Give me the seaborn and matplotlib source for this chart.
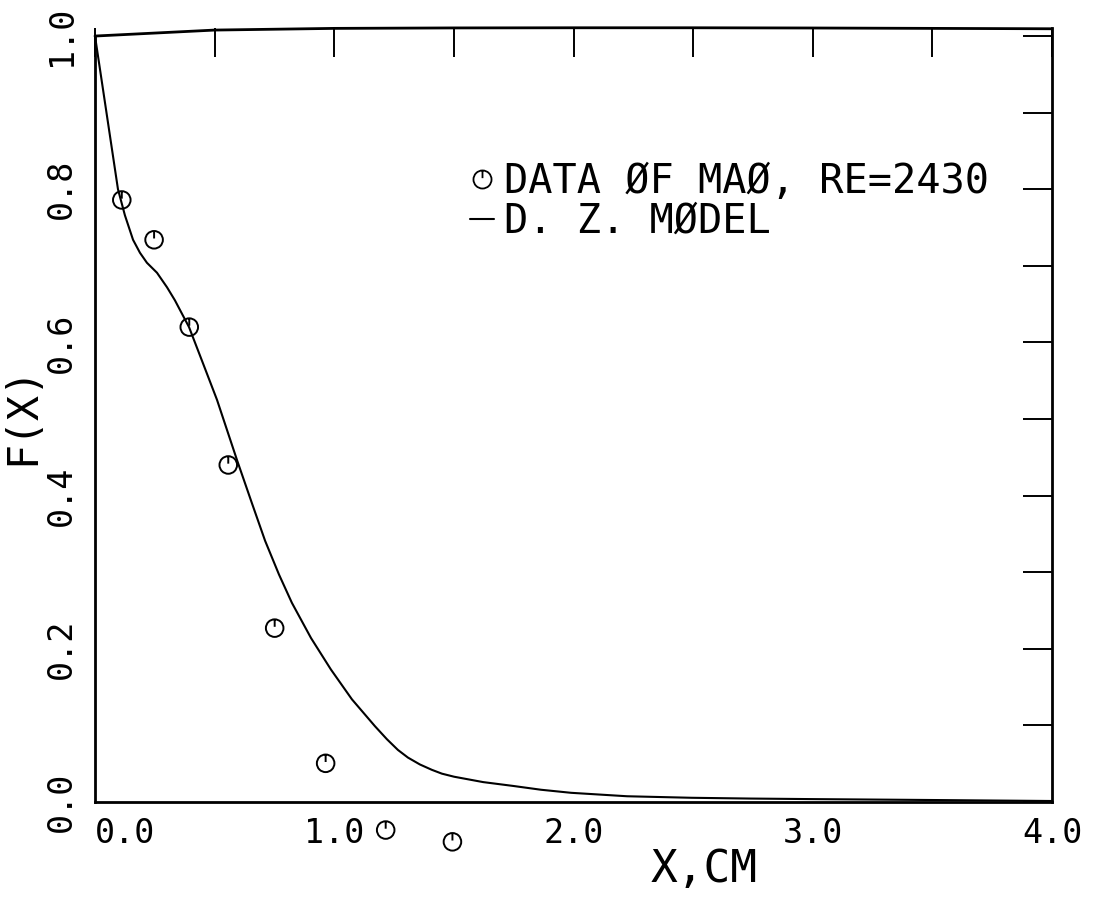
import numpy as np
import matplotlib
matplotlib.use("Agg")
import matplotlib.pyplot as plt
from matplotlib.path import Path
from matplotlib.lines import Line2D
import seaborn as sns

# ---- data ----
model_x = [0.0, 0.048, 0.096, 0.125, 0.159, 0.188, 0.217, 0.259, 0.301,
           0.334, 0.393, 0.451, 0.510, 0.594, 0.656, 0.711, 0.769, 0.823, 0.903, 0.986,
           1.074, 1.170, 1.220, 1.266, 1.308, 1.358, 1.408, 1.450, 1.501, 1.622, 1.747,
           1.864, 1.990, 2.224, 2.495, 2.738, 2.989, 3.498, 4.0]
model_f = [1.0, 0.900, 0.800, 0.766, 0.734, 0.717, 0.704, 0.691, 0.672,
           0.655, 0.620, 0.573, 0.525, 0.446, 0.390, 0.341, 0.297, 0.260, 0.214, 0.173,
           0.134, 0.099, 0.082, 0.068, 0.058, 0.049, 0.042, 0.037, 0.033, 0.026, 0.021,
           0.016, 0.012, 0.0075, 0.0055, 0.0045, 0.0038, 0.0026, 0.0013]
top_x = [0.0, 0.5, 1.0, 1.5, 2.0, 2.5, 3.0, 3.5, 4.0]
top_f = [1.0, 1.0078, 1.0100, 1.0106, 1.0108, 1.0108, 1.0105, 1.0100, 1.0095]
data_x = [0.112, 0.247, 0.394, 0.557, 0.751, 0.964, 1.215, 1.494]
data_f = [0.786, 0.734, 0.620, 0.440, 0.227, 0.0505, -0.0366, -0.052]
x_ticks = [0.0, 0.5, 1.0, 1.5, 2.0, 2.5, 3.0, 3.5, 4.0]
x_labels = ["0.0", "", "1.0", "", "2.0", "", "3.0", "", "4.0"]
y_ticks = [0.0, 0.1, 0.2, 0.3, 0.4, 0.5, 0.6, 0.7, 0.8, 0.9, 1.0]
y_labels = ["0.0", "", "0.2", "", "0.4", "", "0.6", "", "0.8", "", "1.0"]
label_data = "DATA ØF MAØ, RE=2430"
label_model = "D. Z. MØDEL"

sns.set_style("white")
plt.rcParams["font.family"] = ["DejaVu Sans Mono", "DejaVu Sans"]
plt.rcParams["text.color"] = "black"
plt.rcParams["axes.labelcolor"] = "black"

W, H = 1099, 902
fig = plt.figure(figsize=(W / 100, H / 100), dpi=100)
ax = fig.add_axes([95 / W, 1 - 802 / H, (1052 - 95) / W, (802 - 28) / H])

# marker: circle with a short vertical stroke from the top
circ = Path.unit_circle()
stroke = Path([[0, 1.0], [0, 0.15]], [Path.MOVETO, Path.LINETO])
mk = Path.make_compound_path(circ, stroke)

sns.lineplot(x=model_x, y=model_f, ax=ax, color="black", lw=1.5,
             estimator=None, sort=False)
sns.lineplot(x=top_x, y=top_f, ax=ax, color="black", lw=2.0, estimator=None,
             sort=False, clip_on=False)
sns.scatterplot(x=data_x, y=data_f, ax=ax, marker=mk, s=160, facecolor="none",
                edgecolor="black", linewidth=1.4, clip_on=False, zorder=5)

ax.set_xlim(0, 4.0)
ax.set_ylim(0, 1.0105)

ax.set_xticks(x_ticks)
ax.set_xticklabels(x_labels)
ax.set_yticks(y_ticks)
ax.set_yticklabels(y_labels, rotation=90, va="center")
ax.tick_params(axis="both", direction="in", length=21, width=1.4, color="black",
               top=True, right=True, labelsize=24, labelcolor="black")
ax.tick_params(axis="x", pad=11)
ax.tick_params(axis="y", pad=12)
ax.get_xticklabels()[0].set_ha("left")

for s in ["left", "right", "bottom"]:
    ax.spines[s].set_color("black")
    ax.spines[s].set_linewidth(2.0)
ax.spines["top"].set_visible(False)
ax.spines["left"].set_bounds(0, 1.0)

ax.set_xlabel("X,CM", fontsize=32, color="black")
ax.xaxis.set_label_coords(0.637, -0.059)
ax.set_ylabel("F(X)", fontsize=30, color="black")
ax.yaxis.set_label_coords(-0.054, 0.5)

h1 = Line2D([], [], linestyle="none", marker=mk, markersize=13, markerfacecolor="none",
            markeredgecolor="black", markeredgewidth=1.3)
h2 = Line2D([], [], color="black", lw=1.5)
leg = ax.legend([h1, h2], [label_data, label_model], loc="upper left",
                bbox_to_anchor=((470 - 95) / 957, (802 - 162) / 774), frameon=False,
                fontsize=29, handlelength=0.6, handletextpad=0.25, labelspacing=0.0,
                borderpad=0, borderaxespad=0, labelcolor="black")

fig.savefig("out.png", dpi=100, facecolor="white")
